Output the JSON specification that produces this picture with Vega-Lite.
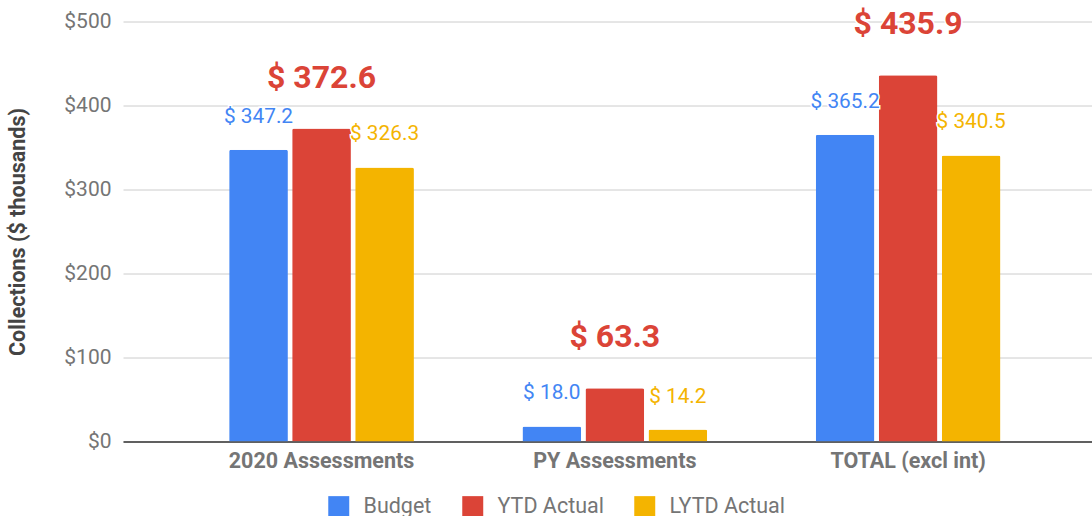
{
  "$schema": "https://vega.github.io/schema/vega-lite/v6.json",
  "width": 969,
  "height": 420,
  "autosize": {"type": "none"},
  "padding": {"left": 123, "top": 21.5, "right": 0, "bottom": 74.5},
  "background": "white",
  "config": {
    "font": "Roboto",
    "view": {"stroke": null}
  },
  "data": {
    "values": [
      {"category": "2020 Assessments", "series": "Budget", "value": 347.2, "label": "$ 347.2"},
      {"category": "2020 Assessments", "series": "YTD Actual", "value": 372.6, "label": "$ 372.6"},
      {"category": "2020 Assessments", "series": "LYTD Actual", "value": 326.3, "label": "$ 326.3"},
      {"category": "PY Assessments", "series": "Budget", "value": 18.0, "label": "$ 18.0"},
      {"category": "PY Assessments", "series": "YTD Actual", "value": 63.3, "label": "$ 63.3"},
      {"category": "PY Assessments", "series": "LYTD Actual", "value": 14.2, "label": "$ 14.2"},
      {"category": "TOTAL (excl int)", "series": "Budget", "value": 365.2, "label": "$ 365.2"},
      {"category": "TOTAL (excl int)", "series": "YTD Actual", "value": 435.9, "label": "$ 435.9"},
      {"category": "TOTAL (excl int)", "series": "LYTD Actual", "value": 340.5, "label": "$ 340.5"}
    ]
  },
  "encoding": {
    "x": {
      "field": "category",
      "type": "nominal",
      "sort": null,
      "scale": {"paddingInner": 0.37, "paddingOuter": 0.337, "align": 0.537},
      "axis": {
        "title": null,
        "labelAngle": 0,
        "labelLimit": 0,
        "labelFont": "Roboto",
        "labelFontSize": 21.5,
        "labelFontWeight": "bold",
        "labelColor": "#757575",
        "labelPadding": 9,
        "ticks": false,
        "domainColor": "#333333",
        "domainWidth": 1.5,
        "grid": false
      }
    },
    "xOffset": {
      "field": "series",
      "type": "nominal",
      "sort": ["Budget", "YTD Actual", "LYTD Actual"],
      "scale": {"paddingInner": 0.068, "paddingOuter": 0}
    },
    "y": {
      "field": "value",
      "type": "quantitative",
      "scale": {"domain": [0, 500], "nice": false},
      "axis": {
        "title": "Collections ($ thousands)",
        "titleFont": "Roboto",
        "titleFontSize": 21.5,
        "titleFontWeight": "bold",
        "titleColor": "#444444",
        "titlePadding": 34,
        "values": [0, 100, 200, 300, 400, 500],
        "labelExpr": "'$' + datum.value",
        "labelFont": "Roboto",
        "labelFontSize": 21,
        "labelColor": "#757575",
        "labelPadding": 12,
        "ticks": false,
        "domain": false,
        "gridColor": "#cccccc",
        "gridWidth": 1
      }
    }
  },
  "layer": [
    {
      "mark": {"type": "bar", "cornerRadiusTopLeft": 2, "cornerRadiusTopRight": 2},
      "encoding": {
        "color": {
          "field": "series",
          "type": "nominal",
          "sort": ["Budget", "YTD Actual", "LYTD Actual"],
          "scale": {"domain": ["Budget", "YTD Actual", "LYTD Actual"], "range": ["#4285F4", "#DB4437", "#F4B400"]},
          "legend": {
            "title": null,
            "orient": "none",
            "direction": "horizontal",
            "legendX": 205,
            "legendY": 474,
            "symbolType": "square",
            "symbolSize": 440,
            "symbolStrokeWidth": 0,
            "symbolOpacity": 1,
            "labelFont": "Roboto",
            "labelFontSize": 21.5,
            "labelColor": "#757575",
            "labelOffset": 14,
            "columnPadding": 30
          }
        }
      }
    },
    {
      "transform": [{"filter": "datum.series != 'YTD Actual'"}],
      "mark": {"type": "text", "baseline": "middle", "dy": -33, "fontSize": 20.8, "font": "Roboto", "stroke": "white", "strokeWidth": 3, "fill": "white"},
      "encoding": {"text": {"field": "label"}}
    },
    {
      "transform": [{"filter": "datum.series != 'YTD Actual'"}],
      "mark": {"type": "text", "baseline": "middle", "dy": -33, "fontSize": 20.8, "font": "Roboto"},
      "encoding": {
        "text": {"field": "label"},
        "color": {"field": "series", "type": "nominal", "legend": null}
      }
    },
    {
      "transform": [{"filter": "datum.series == 'YTD Actual'"}],
      "mark": {"type": "text", "baseline": "middle", "dy": -51, "fontSize": 32, "fontWeight": "bold", "font": "Roboto", "stroke": "white", "strokeWidth": 3, "fill": "white"},
      "encoding": {"text": {"field": "label"}}
    },
    {
      "transform": [{"filter": "datum.series == 'YTD Actual'"}],
      "mark": {"type": "text", "baseline": "middle", "dy": -51, "fontSize": 32, "fontWeight": "bold", "font": "Roboto"},
      "encoding": {
        "text": {"field": "label"},
        "color": {"field": "series", "type": "nominal", "legend": null}
      }
    }
  ]
}
